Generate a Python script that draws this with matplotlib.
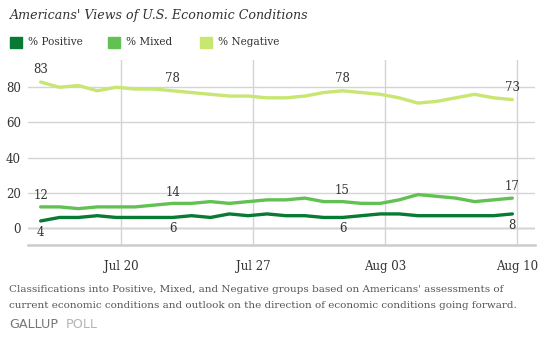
import numpy as np
import matplotlib
matplotlib.use('Agg')
import matplotlib.pyplot as plt
from matplotlib.patches import Rectangle

# daily readings, Jul 16 .. Aug 10
days = list(range(26))
positive = [4, 6, 6, 7, 6, 6, 6, 6, 7, 6, 8, 7, 8, 7, 7, 6, 6, 7, 8, 8, 7, 7, 7, 7, 7, 8]
mixed = [12, 12, 11, 12, 12, 12, 13, 14, 14, 15, 14, 15, 16, 16, 17, 15, 15, 14, 14, 16, 19, 18, 17, 15, 16, 17]
negative = [83, 80, 81, 78, 80, 79, 79, 78, 77, 76, 75, 75, 74, 74, 75, 77, 78, 77, 76, 74, 71, 72, 74, 76, 74, 73]

tick_days = [4, 11, 18, 25]
tick_labels = ['Jul 20', 'Jul 27', 'Aug 03', 'Aug 10']
label_days = [0, 7, 16, 25]

names = ['% Positive', '% Mixed', '% Negative']
colors = ['#077a34', '#62c152', '#c8e672']
serif = ['DejaVu Serif']

fig = plt.figure(figsize=(5.44, 3.55), dpi=100)
ax = fig.add_axes([28 / 544, 1 - 245 / 355, (535 - 28) / 544, (245 - 60) / 355])

for vals, c in zip([negative, mixed, positive], colors[::-1]):
    ax.plot(days, vals, color=c, lw=2.4, solid_capstyle='round', zorder=3)

# data labels
for d in label_days:
    ax.annotate(str(negative[d]), (d, negative[d]), xytext=(0, 9), textcoords='offset points',
                ha='center', va='center', fontsize=8.5, family=serif, color='#333333')
    ax.annotate(str(mixed[d]), (d, mixed[d]), xytext=(0, 8), textcoords='offset points',
                ha='center', va='center', fontsize=8.5, family=serif, color='#333333')
    ax.annotate(str(positive[d]), (d, positive[d]), xytext=(0, -8), textcoords='offset points',
                ha='center', va='center', fontsize=8.5, family=serif, color='#333333')

ax.set_xlim(-0.67, 26.2)
ax.set_ylim(-9.66, 95.5)
ax.set_yticks([0, 20, 40, 60, 80])
ax.set_xticks([t + 0.25 for t in tick_days])
ax.set_xticklabels(tick_labels)
for s in ['top', 'right', 'left']:
    ax.spines[s].set_visible(False)
ax.spines['bottom'].set_color('#cccccc')
ax.spines['bottom'].set_linewidth(1.8)
ax.grid(True, color='#d4d4d4', lw=1.0, zorder=0)
ax.axhline(0, color='#aaaaaa', lw=1.0, zorder=1)
ax.tick_params(length=0, labelsize=8.5, colors='#333333', pad=5)
ax.tick_params(axis='x', pad=11)
for lab in ax.get_xticklabels() + ax.get_yticklabels():
    lab.set_family(serif)

# title
fig.text(10 / 544, 1 - 15 / 355, "Americans' Views of U.S. Economic Conditions", family=serif,
         style='italic', fontsize=9.1, color='#333333', va='center')

# legend
leg_x = [10, 108, 200]
for x0, n, c in zip(leg_x, names, colors):
    fig.patches.append(Rectangle((x0 / 544, 1 - 48 / 355), 12 / 544, 11 / 355, transform=fig.transFigure,
                                 color=c))
    fig.text((x0 + 18) / 544, 1 - 42 / 355, n, family=serif, fontsize=7.6, color='#333333', va='center')

# caption
fig.text(9 / 544, 1 - 289 / 355,
         "Classifications into Positive, Mixed, and Negative groups based on Americans' assessments of",
         family=serif, fontsize=7.5, color='#555555', va='center')
fig.text(9 / 544, 1 - 305 / 355,
         "current economic conditions and outlook on the direction of economic conditions going forward.",
         family=serif, fontsize=7.5, color='#555555', va='center')
fig.text(9 / 544, 1 - 324 / 355, "GALLUP", family='DejaVu Sans', fontsize=9.2, color='#777777', va='center')
fig.text(66 / 544, 1 - 324 / 355, "POLL", family='DejaVu Sans', fontsize=9.2, color='#b5b5b5', va='center')

fig.savefig('out.png', dpi=100)
